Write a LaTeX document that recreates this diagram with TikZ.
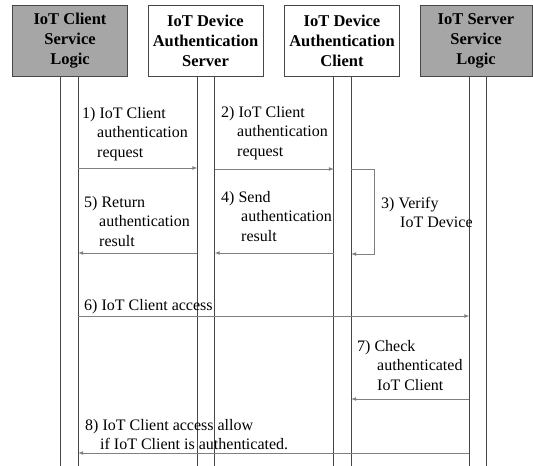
\documentclass[tikz,border=0pt]{standalone}
\usepackage{fontspec}
\setmainfont{Liberation Serif}
\usetikzlibrary{calc}
\usetikzlibrary{positioning}
\usetikzlibrary{arrows}
\definecolor{boxgray}{RGB}{166,166,166}
\definecolor{linegray}{RGB}{70,70,70}

\begin{document}
\begin{tikzpicture}[x=1pt, y=-1pt,
    actor/.style={draw=linegray, line width=1pt, minimum width=115pt, minimum height=71pt, inner sep=0pt, align=center, font=\fontsize{16.5}{20}\selectfont\bfseries},
    bar/.style={minimum width=17pt, minimum height=390pt, inner sep=0pt},
    msg/.style={->, >=latex, draw=gray, line width=0.7pt},
    lbl/.style={anchor=base west, align=left, inner sep=0pt, font=\fontsize{16}{19.5}\selectfont}]
    \useasboundingbox (0,0) rectangle (533,466);
    \node[actor, fill=boxgray] (cl) at (70,40.5) {IoT Client\\Service\\Logic};
    \node[actor, fill=white] (as) at (205.5,40.5) {IoT Device\\Authentication\\Server};
    \node[actor, fill=white] (ac) at (342,40.5) {IoT Device\\Authentication\\Client};
    \node[actor, fill=boxgray, minimum width=112pt] (sl) at (476,40.5) {IoT Server\\Service\\Logic};

    \node[bar] (b1) at (69.5,271) {};
    \node[bar] (b2) at (206,271) {};
    \node[bar] (b3) at (342.5,271) {};
    \node[bar] (b4) at (478,271) {};
    \foreach \b in {b1,b2,b3,b4} {
        \draw[linegray, line width=0.7pt] (\b.north west) -- (\b.south west);
        \draw[linegray, line width=0.7pt] (\b.north east) -- (\b.south east);
    }

    \node[lbl] (t1) at (82,157) {1) IoT Client\\\hspace*{15pt}authentication\\\hspace*{15pt}request};
    \node[lbl] (t2) at (221,156) {2) IoT Client\\\hspace*{16pt}authentication\\\hspace*{16pt}request};
    \node[lbl] (t3) at (381,227.5) {3) Verify\\\hspace*{19pt}IoT Device};
    \node[lbl] (t4) at (221,241) {4) Send\\\hspace*{20pt}authentication\\\hspace*{20pt}result};
    \node[lbl] (t5) at (84,246) {5) Return\\\hspace*{15pt}authentication\\\hspace*{15pt}result};
    \node[lbl] (t6) at (84,310) {6) IoT Client access};
    \node[lbl] (t7) at (357,390) {7) Check\\\hspace*{20pt}authenticated\\\hspace*{20pt}IoT Client};
    \node[lbl] (t8) at (85,449.5) {8) IoT Client access allow\\\hspace*{15pt}if IoT Client is authenticated.};

    \draw[msg] (b1.east |- 0,168) -- (b2.west |- 0,168);
    \draw[msg] (b2.east |- 0,169) -- (b3.west |- 0,169);
    \draw[msg] (b3.east |- 0,169) -- ++(23,0) |- (b3.east |- 0,254);
    \draw[msg] (b3.west |- 0,253) -- (b2.east |- 0,253);
    \draw[msg] (b2.west |- 0,253) -- (b1.east |- 0,253);
    \draw[msg] (b1.east |- 0,316) -- (b4.west |- 0,316);
    \draw[msg] (b4.west |- 0,399) -- (b3.east |- 0,399);
    \draw[msg] (b4.west |- 0,453) -- (b1.east |- 0,453);
\end{tikzpicture}
\end{document}
